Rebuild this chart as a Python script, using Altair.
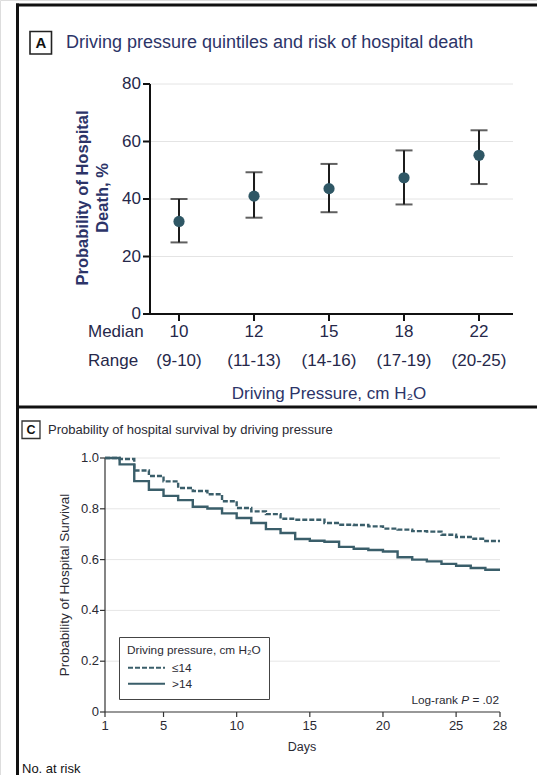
import altair as alt
import pandas as pd

# ---------------- Panel A: driving pressure quintiles ----------------
quintile_idx = [1, 2, 3, 4, 5]
medians = ["10", "12", "15", "18", "22"]
ranges = ["(9-10)", "(11-13)", "(14-16)", "(17-19)", "(20-25)"]
prob_death = [32.2, 41.0, 43.6, 47.4, 55.2]
ci_low = [24.9, 33.5, 35.4, 38.1, 45.2]
ci_high = [40.0, 49.3, 52.2, 56.9, 63.9]
a_yticks = [0, 20, 40, 60, 80]
a_ylabels = ["0", "20", "40", "60", "80"]
row_labels = ["Median", "Range"]
title_a = "Driving pressure quintiles and risk of hospital death"
ytitle_a = ["Probability of Hospital", "Death, %"]
xtitle_a = "Driving Pressure, cm H\u2082O"

# ---------------- Panel C: Kaplan-Meier survival ----------------
days = list(range(1, 29))
surv_le14 = [1.0, 0.996, 0.951, 0.929, 0.908, 0.882, 0.870, 0.857, 0.830, 0.803,
             0.790, 0.779, 0.761, 0.757, 0.757, 0.744, 0.737, 0.736, 0.731, 0.722,
             0.718, 0.712, 0.710, 0.698, 0.689, 0.682, 0.673, 0.673]
surv_gt14 = [1.0, 0.975, 0.909, 0.875, 0.851, 0.834, 0.808, 0.801, 0.782, 0.764,
             0.744, 0.720, 0.705, 0.681, 0.674, 0.670, 0.650, 0.643, 0.638, 0.632,
             0.609, 0.600, 0.593, 0.583, 0.576, 0.567, 0.560, 0.560]
groups = ["\u226414", ">14"]
c_xticks = [1, 5, 10, 15, 20, 25, 28]
c_xlabels = ["1", "5", "10", "15", "20", "25", "28"]
c_yticks = [0, 0.2, 0.4, 0.6, 0.8, 1.0]
c_ylabels = ["0", "0.2", "0.4", "0.6", "0.8", "1.0"]
title_c = "Probability of hospital survival by driving pressure"
ytitle_c = "Probability of Hospital Survival"
xtitle_c = "Days"
legend_title = "Driving pressure, cm H\u2082O"
logrank = ["Log-rank", "P", "= .02"]
at_risk = "No. at risk"

FA = "Liberation Sans"
FC = "Liberation Sans"
NAVY = "#2c3468"
TXA = "#26284a"
TXC = "#2a2a33"
TEAL = "#2f5765"
LINE = "#3a5e6a"
AX_A = "#111111"
AX_C = "#333333"

dfA = pd.DataFrame({"idx": quintile_idx, "median": medians, "range": ranges,
                    "p": prob_death, "lo": ci_low, "hi": ci_high})
dfAy = pd.DataFrame({"v": a_yticks, "lab": a_ylabels})
dfAgrid = pd.DataFrame({"v": a_yticks[1:]})
dfC = pd.DataFrame({"day": days * 2, "surv": surv_le14 + surv_gt14,
                    "group": [groups[0]] * len(days) + [groups[1]] * len(days)})
dfCx = pd.DataFrame({"v": c_xticks, "lab": c_xlabels})
dfCy = pd.DataFrame({"v": c_yticks, "lab": c_ylabels})
dfCgrid = pd.DataFrame({"v": c_yticks[1:]})


def txt(s):
    return alt.Chart(pd.DataFrame({"t": [s]}))


# scales with explicit pixel ranges (the whole canvas is one view)
xa = alt.Scale(domain=[0.613, 5.453], range=[150, 513], nice=False, zero=False)
ya = alt.Scale(domain=[0, 80], range=[314, 84], nice=False)
xc = alt.Scale(domain=[1, 28], range=[105, 500], nice=False, zero=False)
yc = alt.Scale(domain=[0, 1], range=[712, 458], nice=False)

H = 775

# ---------- panel A layers ----------
gridA = alt.Chart(dfAgrid).mark_rule(color="#e4e4e4", strokeWidth=1).encode(
    y=alt.Y("v:Q", scale=ya, axis=None), x=alt.value(150), x2=alt.value(513))

# axes (drawn with the panel's scales)
yDomA = alt.Chart(dfAy).mark_rule(color=AX_A, strokeWidth=2).encode(
    x=alt.value(150), y=alt.Y("min(v):Q", scale=ya, axis=None), y2="max(v):Q")
yTickA = alt.Chart(dfAy).mark_rule(color=AX_A, strokeWidth=2).encode(
    y=alt.Y("v:Q", scale=ya, axis=None), x=alt.value(143), x2=alt.value(150))
yLabA = alt.Chart(dfAy).mark_text(font=FA, fontSize=17, color=TXA, align="right",
                                  baseline="middle").encode(
    y=alt.Y("v:Q", scale=ya, axis=None), x=alt.value(141), text="lab:N")
xDomA = alt.Chart(dfAy).mark_rule(color=AX_A, strokeWidth=2).encode(
    y=alt.Y("min(v):Q", scale=ya, axis=None), x=alt.value(149), x2=alt.value(513))
xTickA = alt.Chart(dfA).mark_rule(color=AX_A, strokeWidth=2).encode(
    x=alt.X("idx:Q", scale=xa, axis=None), y=alt.value(314), y2=alt.value(321))

bars = alt.Chart(dfA).mark_rule(color="#1c1c1c", strokeWidth=2).encode(
    x=alt.X("idx:Q", scale=xa, axis=None),
    y=alt.Y("lo:Q", scale=ya, axis=None), y2="hi:Q")
capLo = alt.Chart(dfA).mark_tick(color="#1c1c1c", thickness=2, size=17,
                                 orient="horizontal").encode(
    x=alt.X("idx:Q", scale=xa, axis=None), y=alt.Y("lo:Q", scale=ya, axis=None))
capHi = alt.Chart(dfA).mark_tick(color="#1c1c1c", thickness=2, size=17,
                                 orient="horizontal").encode(
    x=alt.X("idx:Q", scale=xa, axis=None), y=alt.Y("hi:Q", scale=ya, axis=None))

pts = alt.Chart(dfA).mark_circle(size=125, color=TEAL, opacity=1).encode(
    x=alt.X("idx:Q", scale=xa, axis=None),
    y=alt.Y("p:Q", scale=ya, axis=None))

medText = alt.Chart(dfA).mark_text(font=FA, fontSize=17, color=TXA).encode(
    x=alt.X("idx:Q", scale=xa, axis=None), y=alt.value(332), text="median:N")
rngText = alt.Chart(dfA).mark_text(font=FA, fontSize=17, color=TXA).encode(
    x=alt.X("idx:Q", scale=xa, axis=None), y=alt.value(361), text="range:N")
rowMed = txt(row_labels[0]).mark_text(font=FA, fontSize=17, color=TXA,
                                      align="left").encode(
    x=alt.value(88), y=alt.value(332), text="t:N")
rowRng = txt(row_labels[1]).mark_text(font=FA, fontSize=17, color=TXA,
                                      align="left").encode(
    x=alt.value(88), y=alt.value(361), text="t:N")
xTitA = txt(xtitle_a).mark_text(font=FA, fontSize=17, color=NAVY).encode(
    x=alt.value(329), y=alt.value(394), text="t:N")
yTitA1 = txt(ytitle_a[0]).mark_text(font=FA, fontSize=16.5, fontWeight="bold",
                                    color=NAVY, angle=270).encode(
    x=alt.value(83), y=alt.value(198), text="t:N")
yTitA2 = txt(ytitle_a[1]).mark_text(font=FA, fontSize=16.5, fontWeight="bold",
                                    color=NAVY, angle=270).encode(
    x=alt.value(103), y=alt.value(198), text="t:N")

boxA = txt("A").mark_rect(fill="white", stroke="#222", strokeWidth=1.6).encode(
    x=alt.value(30), x2=alt.value(51.5), y=alt.value(31.5), y2=alt.value(54))
letterA = txt("A").mark_text(font=FA, fontSize=15, fontWeight="bold",
                             color="#111").encode(
    x=alt.value(41), y=alt.value(43), text="t:N")
titleA = txt(title_a).mark_text(font=FA, fontSize=18, color=NAVY,
                                align="left").encode(
    x=alt.value(66), y=alt.value(43), text="t:N")

layerA = alt.layer(gridA, yDomA, yTickA, yLabA, xDomA, xTickA, bars, capLo, capHi,
                   pts, medText, rngText, rowMed, rowRng, xTitA, yTitA1, yTitA2,
                   boxA, letterA, titleA)

# ---------- panel C layers ----------
gridC = alt.Chart(dfCgrid).mark_rule(color="#e6e6e6", strokeWidth=1).encode(
    y=alt.Y("v:Q", scale=yc, axis=None), x=alt.value(105), x2=alt.value(500))

yDomC = alt.Chart(dfCy).mark_rule(color=AX_C, strokeWidth=1.2).encode(
    x=alt.value(105), y=alt.Y("min(v):Q", scale=yc, axis=None), y2="max(v):Q")
yTickC = alt.Chart(dfCy).mark_rule(color=AX_C, strokeWidth=1.2).encode(
    y=alt.Y("v:Q", scale=yc, axis=None), x=alt.value(100), x2=alt.value(105))
yLabC = alt.Chart(dfCy).mark_text(font=FC, fontSize=13, color=TXC, align="right",
                                  baseline="middle").encode(
    y=alt.Y("v:Q", scale=yc, axis=None), x=alt.value(99), text="lab:N")
xDomC = alt.Chart(dfCx).mark_rule(color=AX_C, strokeWidth=1.2).encode(
    x=alt.X("min(v):Q", scale=xc, axis=None), x2="max(v):Q", y=alt.value(712))
xTickC = alt.Chart(dfCx).mark_rule(color=AX_C, strokeWidth=1.2).encode(
    x=alt.X("v:Q", scale=xc, axis=None), y=alt.value(712), y2=alt.value(717))
xLabC = alt.Chart(dfCx).mark_text(font=FC, fontSize=13, color=TXC,
                                  baseline="middle").encode(
    x=alt.X("v:Q", scale=xc, axis=None), y=alt.value(726), text="lab:N")
xTitC = txt(xtitle_c).mark_text(font=FC, fontSize=12.5, color=TXC).encode(
    x=alt.value(302), y=alt.value(747), text="t:N")
yTitC = txt(ytitle_c).mark_text(font=FC, fontSize=13.5, color=TXC,
                                angle=270).encode(
    x=alt.value(65), y=alt.value(585), text="t:N")

km = alt.Chart(dfC).mark_line(interpolate="step-after", strokeWidth=2.4,
                              color=LINE).encode(
    x=alt.X("day:Q", scale=xc, axis=None),
    y=alt.Y("surv:Q", scale=yc, axis=None),
    strokeDash=alt.StrokeDash("group:N", sort=groups,
                              scale=alt.Scale(domain=groups, range=[[5, 2], [1, 0]]),
                              legend=alt.Legend(
                                  orient="none", legendX=119, legendY=637,
                                  title=legend_title, titleFont=FC, titleFontSize=11.8,
                                  titleFontWeight="normal", titleColor=TXC,
                                  labelFont=FC, labelFontSize=11.8, labelColor=TXC,
                                  symbolType="stroke", symbolSize=1369,
                                  symbolStrokeWidth=2, symbolStrokeColor=LINE,
                                  clipHeight=14, rowPadding=2, titlePadding=4,
                                  labelOffset=6, padding=8, strokeColor="#444",
                                  fillColor="white", cornerRadius=0)))

lr1 = txt(logrank[0]).mark_text(font=FC, fontSize=11.8, color=TXC,
                                align="right").encode(
    x=alt.value(458), y=alt.value(700), text="t:N")
lr2 = txt(logrank[1]).mark_text(font=FC, fontSize=11.8, color=TXC,
                                fontStyle="italic", align="right").encode(
    x=alt.value(469), y=alt.value(700), text="t:N")
lr3 = txt(logrank[2]).mark_text(font=FC, fontSize=11.8, color=TXC,
                                align="right").encode(
    x=alt.value(499), y=alt.value(700), text="t:N")

boxC = txt("C").mark_rect(fill="white", stroke="#333", strokeWidth=1.3).encode(
    x=alt.value(22), x2=alt.value(40), y=alt.value(421), y2=alt.value(438.5))
letterC = txt("C").mark_text(font=FC, fontSize=12.5, fontWeight="bold",
                             color="#111").encode(
    x=alt.value(31), y=alt.value(430), text="t:N")
titleC = txt(title_c).mark_text(font=FC, fontSize=13, color=TXC,
                                align="left").encode(
    x=alt.value(48), y=alt.value(430), text="t:N")
atRisk = txt(at_risk).mark_text(font=FC, fontSize=13, color="#111",
                                align="left", baseline="top").encode(
    x=alt.value(22), y=alt.value(763), text="t:N")

layerC = alt.layer(gridC, yDomC, yTickC, yLabC, xDomC, xTickC, xLabC, xTitC, yTitC,
                   km, lr1, lr2, lr3, boxC, letterC, titleC, atRisk)

# ---------- frame ----------
frameL = txt("f").mark_rule(color="#111", strokeWidth=3).encode(
    x=alt.value(17.5), y=alt.value(3.5), y2=alt.value(H))
frameT = txt("f").mark_rule(color="#111", strokeWidth=3).encode(
    y=alt.value(5), x=alt.value(16), x2=alt.value(537))
frameM = txt("f").mark_rule(color="#111", strokeWidth=3).encode(
    y=alt.value(407), x=alt.value(16), x2=alt.value(537))

chart = alt.layer(layerA, layerC, frameL, frameT, frameM).resolve_scale(
    x="independent", y="independent", strokeDash="independent"
).properties(
    width=537, height=H, padding=0,
    autosize=alt.AutoSizeParams(type="none"),
).configure_view(stroke=None).configure(background="white")

chart.save("out.html", embed_options={"renderer": "svg", "actions": False})
